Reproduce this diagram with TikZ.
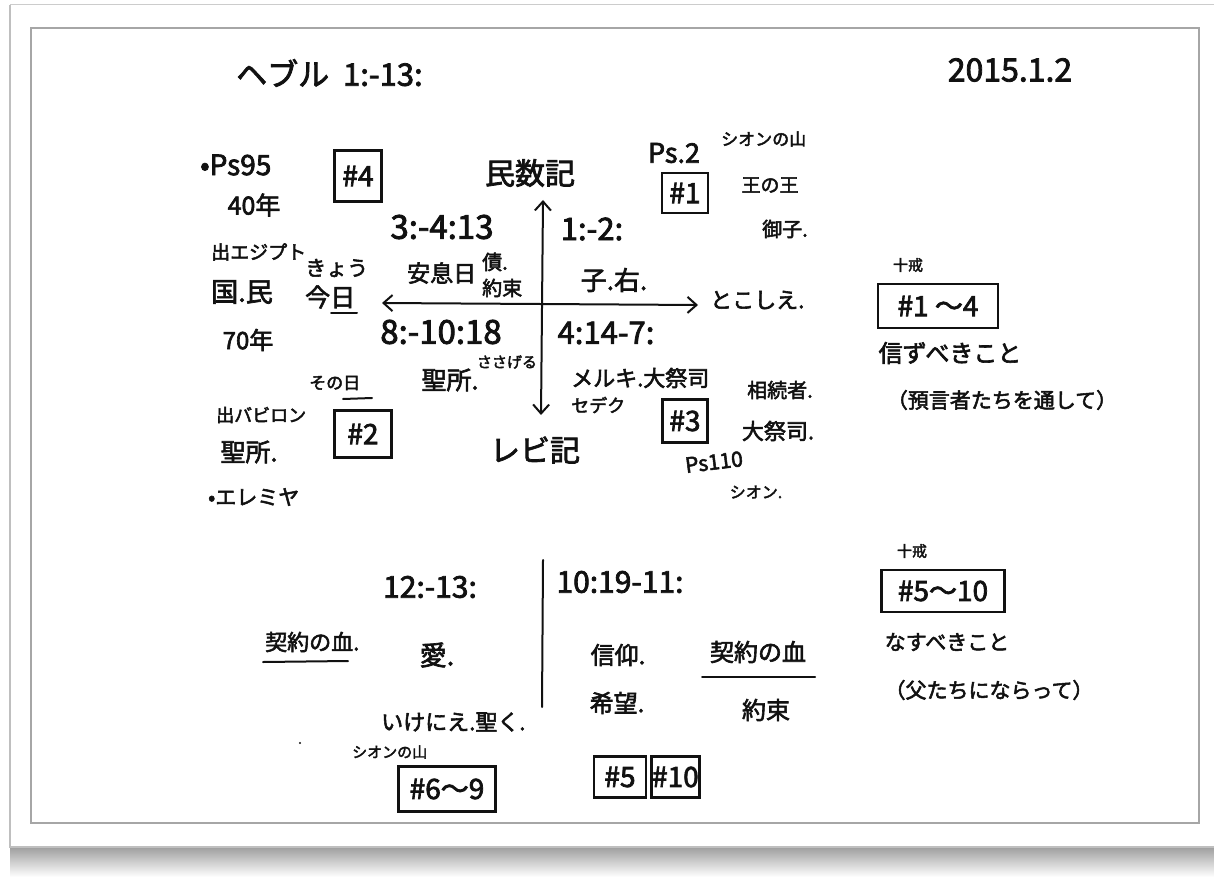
\documentclass[tikz,border=0pt]{standalone}
\usepackage{fontspec}
\setmainfont{Noto Sans CJK JP}[FakeBold=2.5]
\usetikzlibrary{arrows.meta}
\newcommand{\fz}[1]{\fontsize{#1}{#1}\selectfont}
\definecolor{ink}{HTML}{111111}
\begin{document}
\begin{tikzpicture}[x=1pt,y=-1pt,
  txt/.style={inner sep=0pt, text=ink},
  hbox/.style={draw=ink, line width=2.4pt, inner sep=0pt, text=ink, font={\fz{28}}},
  axisarrow/.style={draw=ink, line width=2pt, {Straight Barb[length=9pt,width=16pt]}-{Straight Barb[length=9pt,width=16pt]}},
  penline/.style={draw=ink, line width=2pt, line cap=round}]
\useasboundingbox (0,0) rectangle (1214,877);
% page, shadow and frame
\fill[white] (0,0) rectangle (1214,877);
\shade[top color=black!38, bottom color=white] (10,847) rectangle (1214,877);
\fill[white] (10,5) rectangle (1214,847);
\draw[black!20, line width=1pt] (10,5) -- (1214,5);
\draw[black!25, line width=1.2pt] (10,5) -- (10,847) -- (1214,847);
\draw[black!35, line width=1.8pt] (31,28) rectangle (1199,823);

% title and date
\node[txt, font={\fz{31}}, anchor=west] (title) at (236,73) {ヘブル\ \ 1:-13:};
\node[txt, font={\fz{32}}] (date) at (1010,70) {2015.1.2};

% quadrant diagram
\coordinate (hl) at (382,303);
\coordinate (hr) at (698,305);
\coordinate (vt) at (543,200);
\coordinate (vb) at (541,415);
\draw[axisarrow] (hl) -- (hr);
\draw[axisarrow] (vt) -- (vb);

\node[txt, font={\fz{30}}] (num) at (530,173) {民数記};
\node[txt, font={\fz{30}}] (lev) at (535,450) {レビ記};
\node[txt, font={\fz{22}}, anchor=west] (eternal) at (710,300) {とこしえ.};
\node[txt, font={\fz{25}}, anchor=west] (today) at (305,297) {今日};
\draw[penline] (331,313) -- (357,313);
\node[txt, font={\fz{21}}, anchor=west] (kyou) at (305,268) {きょう};

% upper left quadrant
\node[txt, font={\fz{33}}] (q1ref) at (442,227) {3:-4:13};
\node[txt, font={\fz{23}}, anchor=west] (rest) at (407,273) {安息日};
\node[txt, font={\fz{20}}, anchor=west] (oath) at (482,262) {債.};
\node[txt, font={\fz{20}}, anchor=west] (promise1) at (482,288) {約束};
% upper right quadrant
\node[txt, font={\fz{31}}] (q2ref) at (592,229) {1:-2:};
\node[txt, font={\fz{26}}] (son) at (614,280) {子.右.};
% lower left quadrant
\node[txt, font={\fz{33}}] (q3ref) at (441,332) {8:-10:18};
\node[txt, font={\fz{15}}] (offer) at (507,362) {ささげる};
\node[txt, font={\fz{25}}] (sanct1) at (450,380) {聖所.};
% lower right quadrant
\node[txt, font={\fz{31}}] (q4ref) at (606,333) {4:14-7:};
\node[txt, font={\fz{22}}, anchor=west] (melchi) at (571,378) {メルキ.大祭司};
\node[txt, font={\fz{18}}, anchor=west] (zedek) at (571,405) {セデク};

% upper left notes
\node[txt, font={\fz{28}}, anchor=west] (ps95) at (200,165) {•Ps95};
\node[txt, font={\fz{25}}] (forty) at (254,205) {40年};
\node[hbox, minimum width=47pt, minimum height=51pt] (b4) at (358,176) {\#4};
\node[txt, font={\fz{19}}, anchor=west] (exodus) at (211,252) {出エジプト};
\node[txt, font={\fz{27}}] (nation) at (242,292) {国.民};
\node[txt, font={\fz{24}}] (seventy) at (248,340) {70年};
% lower left notes
\node[txt, font={\fz{17}}, anchor=west] (thatday) at (309,383) {その日};
\draw[penline] (343,399) -- (372,398);
\node[txt, font={\fz{18}}, anchor=west] (babylon) at (216,415) {出バビロン};
\node[hbox, minimum width=57pt, minimum height=47pt] (b2) at (363,434) {\#2};
\node[txt, font={\fz{25}}] (sanct2) at (249,452) {聖所.};
\node[txt, font={\fz{21}}, anchor=west] (jer) at (208,497) {•エレミヤ};

% upper right notes
\node[txt, font={\fz{27}}] (ps2) at (674,153) {Ps.2};
\node[txt, font={\fz{17}}, anchor=west] (zion1) at (721,139) {シオンの山};
\node[hbox, minimum width=46pt, minimum height=40pt] (b1) at (685,193) {\#1};
\node[txt, font={\fz{19}}] (kingofkings) at (770,185) {王の王};
\node[txt, font={\fz{20}}] (sonr) at (785,229) {御子.};
% lower right notes
\node[txt, font={\fz{20}}] (heir) at (780,390) {相続者.};
\node[hbox, minimum width=45pt, minimum height=43pt] (b3) at (685,421) {\#3};
\node[txt, font={\fz{22}}] (hp) at (778,431) {大祭司.};
\node[txt, font={\fz{21}}, rotate=7] (ps110) at (714,462) {Ps110};
\node[txt, font={\fz{16}}] (zion2) at (756,492) {シオン.};

% right column
\node[txt, font={\fz{15}}] (tc1) at (908,265) {十戒};
\node[hbox, minimum width=120pt, minimum height=44pt] (b14) at (938,306) {\#1 〜4};
\node[txt, font={\fz{24}}] (believe) at (950,353) {信ずべきこと};
\node[txt, font={\fz{21}}] (prophets) at (1002,400) {（預言者たちを通して）};
\node[txt, font={\fz{15}}] (tc2) at (912,551) {十戒};
\node[hbox, minimum width=123pt, minimum height=42pt] (b510) at (943,591) {\#5〜10};
\node[txt, font={\fz{21}}] (todo) at (947,642) {なすべきこと};
\node[txt, font={\fz{21}}] (fathers) at (989,690) {（父たちにならって）};

% bottom part
\coordinate (vt2) at (543,560);
\coordinate (vb2) at (542,707);
\draw[penline] (vt2) -- (vb2);
\node[txt, font={\fz{30}}] (ref1213) at (430,587) {12:-13:};
\node[txt, font={\fz{30}}] (ref1019) at (620,582) {10:19-11:};
\node[txt, font={\fz{22}}, anchor=west] (blood1) at (265,642) {契約の血.};
\draw[penline] (263,662) -- (348,661);
\node[txt, font={\fz{27}}] (love) at (437,655) {愛.};
\node[txt, font={\fz{22}}, anchor=west] (sacr) at (381,722) {いけにえ.聖く.};
\fill[ink] (300,743) circle (1.2pt);
\node[txt, font={\fz{15}}, anchor=west] (zion3) at (352,752) {シオンの山};
\node[hbox, minimum width=97pt, minimum height=45pt] (b69) at (447,789) {\#6〜9};
\node[txt, font={\fz{24}}] (faith) at (618,655) {信仰.};
\node[txt, font={\fz{24}}] (blood2) at (758,652) {契約の血};
\draw[penline] (702,677) -- (815,677);
\node[txt, font={\fz{24}}] (hope) at (617,703) {希望.};
\node[txt, font={\fz{24}}] (promise2) at (766,710) {約束};
\node[hbox, minimum width=52pt, minimum height=41pt] (b5) at (620,777) {\#5};
\node[hbox, minimum width=48pt, minimum height=41pt, anchor=west] (b10) at ([xshift=3pt]b5.east) {\#10};
\end{tikzpicture}
\end{document}
